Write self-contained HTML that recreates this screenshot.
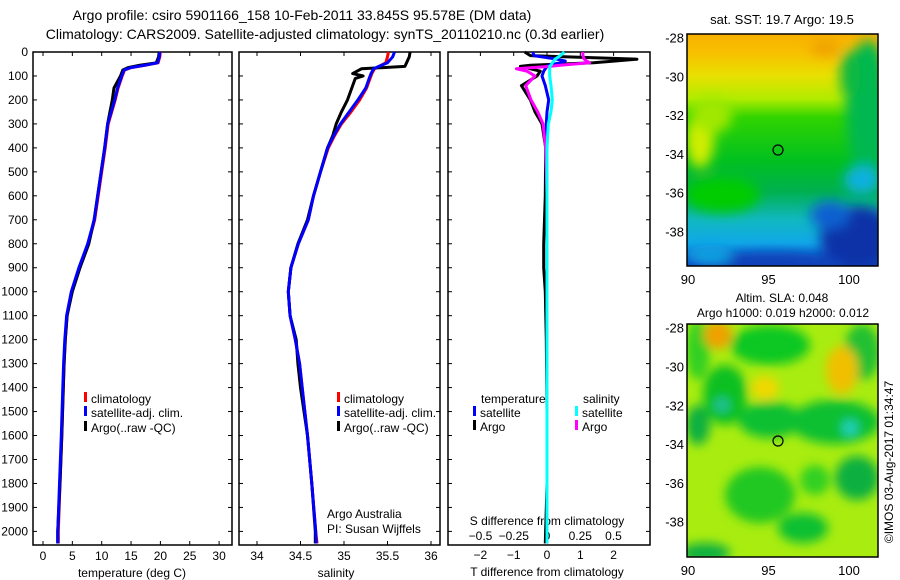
<!DOCTYPE html>
<html><head><meta charset="utf-8"><style>
body{margin:0;background:#fff}
svg{display:block;font-family:"Liberation Sans",sans-serif}
text{fill:#000}
</style></head><body>
<svg id="fig" width="900" height="580" viewBox="0 0 900 580" xmlns="http://www.w3.org/2000/svg">
<defs>
<filter id="bl1" x="-20%" y="-20%" width="140%" height="140%"><feGaussianBlur stdDeviation="6"/></filter>
<filter id="bl2" x="-20%" y="-20%" width="140%" height="140%"><feGaussianBlur stdDeviation="5"/></filter>
<clipPath id="c1"><rect x="687" y="34" width="191" height="232"/></clipPath>
<clipPath id="c2"><rect x="687" y="324" width="191" height="233"/></clipPath>
<linearGradient id="g1" x1="0" y1="0" x2="0" y2="1">
<stop offset="0" stop-color="#f8b000"/><stop offset="0.08" stop-color="#f8c000"/><stop offset="0.18" stop-color="#e8e000"/><stop offset="0.28" stop-color="#b0ec00"/><stop offset="0.36" stop-color="#30d400"/><stop offset="0.55" stop-color="#00c020"/><stop offset="0.68" stop-color="#00b050"/><stop offset="0.8" stop-color="#10b8c0"/><stop offset="0.9" stop-color="#10a8e8"/><stop offset="1" stop-color="#1040c0"/>
</linearGradient>
</defs>
<text x="302" y="20" font-size="14" text-anchor="middle">Argo profile: csiro 5901166_158 10-Feb-2011 33.845S 95.578E (DM data)</text>
<text x="325" y="39" font-size="14" text-anchor="middle">Climatology: CARS2009. Satellite-adjusted climatology: synTS_20110210.nc (0.3d earlier)</text>
<g id="axes"></g>
<g id="series"></g>
<g>
<text x="782" y="24" font-size="13" text-anchor="middle">sat. SST: 19.7 Argo: 19.5</text>
<g clip-path="url(#c1)">
<rect x="687" y="34" width="191" height="232" fill="url(#g1)"/>
<g filter="url(#bl1)">
<ellipse cx="700" cy="140" rx="14" ry="28" fill="#d0ee00"/>
<ellipse cx="712" cy="115" rx="20" ry="18" fill="#a0e800"/>
<ellipse cx="868" cy="110" rx="22" ry="70" fill="#00b850"/>
<ellipse cx="850" cy="75" rx="10" ry="25" fill="#10b840"/>
<ellipse cx="722" cy="195" rx="38" ry="18" fill="#00cc00"/>
<ellipse cx="858" cy="238" rx="38" ry="32" fill="#0830a8"/>
<ellipse cx="830" cy="215" rx="20" ry="14" fill="#1060d0"/>
<ellipse cx="862" cy="180" rx="18" ry="14" fill="#10b0e0"/>
<ellipse cx="770" cy="262" rx="70" ry="9" fill="#1040b8"/>
<ellipse cx="710" cy="255" rx="22" ry="10" fill="#10a0e0"/>
<ellipse cx="825" cy="48" rx="15" ry="8" fill="#f0a000"/>
</g>
</g>
<rect x="687" y="34" width="191" height="232" fill="none" stroke="#000" stroke-width="1.5"/>
<circle cx="778" cy="150" r="5" fill="none" stroke="#000" stroke-width="1.2"/>
</g>
<g>
<text x="782" y="302" font-size="12" text-anchor="middle">Altim. SLA: 0.048</text>
<text x="783" y="317" font-size="12" text-anchor="middle">Argo h1000: 0.019 h2000: 0.012</text>
<g clip-path="url(#c2)">
<rect x="687" y="324" width="191" height="233" fill="#a8ec10"/>
<g filter="url(#bl2)">
<ellipse cx="770" cy="345" rx="40" ry="20" fill="#10c820"/>
<ellipse cx="862" cy="352" rx="18" ry="28" fill="#20c030"/>
<ellipse cx="698" cy="350" rx="12" ry="30" fill="#30d020"/>
<ellipse cx="725" cy="395" rx="22" ry="30" fill="#10c020"/>
<ellipse cx="770" cy="420" rx="32" ry="18" fill="#10c030"/>
<ellipse cx="835" cy="422" rx="45" ry="22" fill="#10c030"/>
<ellipse cx="857" cy="478" rx="22" ry="22" fill="#10b040"/>
<ellipse cx="698" cy="425" rx="12" ry="20" fill="#10b040"/>
<ellipse cx="760" cy="495" rx="35" ry="28" fill="#20c820"/>
<ellipse cx="803" cy="528" rx="25" ry="15" fill="#10c030"/>
<ellipse cx="705" cy="553" rx="25" ry="10" fill="#10b040"/>
<ellipse cx="815" cy="480" rx="15" ry="15" fill="#30d020"/>
<ellipse cx="718" cy="335" rx="14" ry="14" fill="#f0a000"/>
<ellipse cx="842" cy="370" rx="16" ry="24" fill="#f0c000"/>
<ellipse cx="765" cy="388" rx="14" ry="12" fill="#f0d800"/>
<ellipse cx="722" cy="405" rx="7" ry="7" fill="#20c0a0"/>
<ellipse cx="850" cy="428" rx="8" ry="8" fill="#20d0c0"/>
</g>
</g>
<rect x="687" y="324" width="191" height="233" fill="none" stroke="#000" stroke-width="1.5"/>
<circle cx="778" cy="441" r="5" fill="none" stroke="#000" stroke-width="1.2"/>
<text x="0" y="0" font-size="12" text-anchor="middle" transform="translate(893,462) rotate(-90)">©IMOS 03-Aug-2017 01:34:47</text>
</g>
</svg>
<script>
// ---- data ----
const tempDepths  = [0,20,45,55,65,75,100,150,200,300,400,500,600,700,800,900,1000,1100,1200,1300,1400,1600,1800,2000,2050];
const tempClim    = [20.0,19.9,19.6,17.5,15.0,13.9,13.5,12.8,12.3,11.1,10.6,10.0,9.4,8.8,7.7,6.2,4.9,4.1,3.8,3.6,3.45,3.2,2.9,2.6,2.6];
const tempArgo    = [19.8,19.7,19.3,16.5,14.5,13.6,13.2,12.1,11.8,11.0,10.5,9.9,9.3,8.7,7.8,6.3,5.0,4.1,3.8,3.6,3.45,3.2,2.9,2.5,2.5];
const salDepths   = [0,20,45,60,70,90,100,110,150,200,250,300,350,400,500,600,700,800,900,1000,1100,1200,1300,1400,1600,1800,2000,2050];
const salClim     = [35.51,35.50,35.48,35.40,35.35,35.32,35.31,35.30,35.26,35.18,35.08,34.97,34.89,34.82,34.73,34.65,34.59,34.475,34.39,34.36,34.38,34.44,34.49,34.52,34.58,34.63,34.675,34.69];
const salSat      = [35.58,35.56,35.50,35.40,35.34,35.31,35.30,35.29,35.25,35.16,35.06,34.96,34.88,34.81,34.73,34.65,34.59,34.475,34.39,34.36,34.38,34.44,34.49,34.52,34.58,34.63,34.675,34.68];
const salArgo     = [35.76,35.75,35.72,35.70,35.20,35.10,35.22,35.13,35.09,35.04,34.97,34.91,34.87,34.81,34.73,34.65,34.58,34.47,34.39,34.36,34.38,34.45,34.47,34.50,34.58,34.63,34.67,34.67];
const diffDepths  = [0,15,30,38,45,55,60,70,80,100,140,200,250,300,400,600,800,900,1000,1200,1500,1800,2050];
const dTsat       = [-0.42,-0.40,0.30,0.55,0.40,0.05,0.0,-0.05,-0.10,-0.15,-0.05,0.05,0.0,-0.02,0.0,0.0,0.0,0.0,0.0,0.0,0.0,0.0,0.0];
const dTargo      = [-0.67,-0.50,2.7,2.0,1.4,-0.5,-0.8,-0.5,-0.2,-0.3,-0.77,-0.5,-0.36,-0.15,-0.04,-0.05,-0.1,-0.1,-0.05,-0.02,0.0,0.0,-0.05];
const dSsat       = [0.13,0.10,0.06,0.05,0.04,0.03,0.02,0.02,0.02,0.02,0.03,0.04,0.03,0.01,0.0,0.0,0.0,0.0,0.0,0.0,0.0,0.0,0.0];
const dSargo      = [0.27,0.27,0.28,0.30,0.32,0.10,0.02,-0.23,-0.15,-0.09,-0.16,-0.12,-0.07,-0.03,-0.01,0.0,0.0,0.0,0.0,0.0,0.0,0.0,0.0];
const depthTicks  = [0,100,200,300,400,500,600,700,800,900,1000,1100,1200,1300,1400,1500,1600,1700,1800,1900,2000];
const tempTicks   = [0,5,10,15,20,25,30];
const salTicks    = ['34','34.5','35','35.5','36'];
const tdiffTicks  = [-2,-1,0,1,2];
const sdiffTicks  = ['-0.5','-0.25','0','0.25','0.5'];

// ---- scales ----
const TOP=52, BOT=545;
const yD = d => TOP + d*0.2397;
const xT = t => 43 + t*5.87;
const xS = s => 257 + (s-34)*87;
const xDT = t => 547 + t*33.3;
const xDS = s => 547 + s*133;

const NS='http://www.w3.org/2000/svg';
const axes=document.getElementById('axes'), series=document.getElementById('series');
function mk(tag, parent, attrs){const e=document.createElementNS(NS,tag);for(const k in attrs)e.setAttribute(k,attrs[k]);parent.appendChild(e);return e;}
function txt(parent,x,y,s,anchor,size){const e=mk('text',parent,{x:x,y:y,'font-size':size||12,'text-anchor':anchor||'middle'});e.textContent=s;return e;}

const frames=[[33,232],[239,440],[448,650]];
const frameNames=['temperature-panel-frame','salinity-panel-frame','difference-panel-frame'];
frames.forEach((f,i)=>{
  const r=mk('rect',axes,{x:f[0],y:TOP,width:f[1]-f[0],height:BOT-TOP,fill:'none',stroke:'#000','stroke-width':1.5});
  
  
  depthTicks.forEach(d=>{
    mk('line',axes,{x1:f[0],x2:f[0]+4,y1:yD(d),y2:yD(d),stroke:'#000'});
    mk('line',axes,{x1:f[1]-4,x2:f[1],y1:yD(d),y2:yD(d),stroke:'#000'});
  });
});
depthTicks.forEach(d=>{
  const t=txt(axes,28,yD(d)+4,String(d),'end',12);
  
  
});
tempTicks.forEach(v=>{
  mk('line',axes,{x1:xT(v),x2:xT(v),y1:TOP,y2:TOP+4,stroke:'#000'});
  mk('line',axes,{x1:xT(v),x2:xT(v),y1:BOT-4,y2:BOT,stroke:'#000'});
  const t=txt(axes,xT(v),560,String(v));
  
  
});
salTicks.forEach(v=>{
  const x=xS(parseFloat(v));
  mk('line',axes,{x1:x,x2:x,y1:TOP,y2:TOP+4,stroke:'#000'});
  mk('line',axes,{x1:x,x2:x,y1:BOT-4,y2:BOT,stroke:'#000'});
  const t=txt(axes,x,560,v);
  
  
});
tdiffTicks.forEach(v=>{
  mk('line',axes,{x1:xDT(v),x2:xDT(v),y1:TOP,y2:TOP+4,stroke:'#000'});
  const t=txt(axes,xDT(v),559,String(v).replace('-','−'));
  
  
});
sdiffTicks.forEach(v=>{
  const t=txt(axes,xDS(parseFloat(v)),540,v.replace('-','−'));
  
  
});
let a;
a=txt(axes,132,577,'temperature (deg C)');


a=txt(axes,336,577,'salinity');


a=txt(axes,547,576,'T difference from climatology');


a=txt(axes,547,525,'S difference from climatology');


a=txt(axes,327,518,'Argo Australia','start');


a=txt(axes,327,533,'PI: Susan Wijffels','start');



function line(xs, ds, xf, color, name, w){
  const pts=ds.map((d,i)=>xf(xs[i]).toFixed(1)+','+yD(d).toFixed(1)).join(' ');
  const p=mk('polyline',series,{points:pts,fill:'none',stroke:color,'stroke-width':w||3,'stroke-linejoin':'round'});
  
  
}
line(tempClim,tempDepths,xT,'#ff0000','temp-climatology-line');
line(tempArgo,tempDepths,xT,'#000000','temp-argo-line');
line(tempClim,tempDepths,t=>xT(t)-0.5,'#0000ff','temp-satellite-line');
line(salClim,salDepths,xS,'#ff0000','sal-climatology-line');
line(salArgo,salDepths,xS,'#000000','sal-argo-line');
line(salSat,salDepths,xS,'#0000ff','sal-satellite-line');
line(dTargo,diffDepths,xDT,'#000000','tdiff-argo-line');
line(dTsat,diffDepths,xDT,'#0000ff','tdiff-satellite-line');
line(dSargo,diffDepths,xDS,'#ff00ff','sdiff-argo-line');
line(dSsat,diffDepths,xDS,'#00ffff','sdiff-satellite-line');

function legend(x,y,color,label,name){
  const g=mk('g',axes,{});
  
  
  mk('rect',g,{x:x,y:y-11,width:3,height:10,fill:color});
  txt(g,x+7,y,label,'start',12);
}
legend(84,403,'#ff0000','climatology','legend-climatology');
legend(84,417,'#0000ff','satellite-adj. clim.','legend-satellite-adj');
legend(84,432,'#000000','Argo(..raw -QC)','legend-argo');
legend(337,403,'#ff0000','climatology','legend2-climatology');
legend(337,417,'#0000ff','satellite-adj. clim.','legend2-satellite-adj');
legend(337,432,'#000000','Argo(..raw -QC)','legend2-argo');
a=txt(axes,481,403,'temperature','start');


a=txt(axes,583,403,'salinity','start');


legend(473,417,'#0000ff','satellite','legend-tdiff-satellite');
legend(473,431,'#000000','Argo','legend-tdiff-argo');
legend(575,417,'#00ffff','satellite','legend-sdiff-satellite');
legend(575,431,'#ff00ff','Argo','legend-sdiff-argo');

function mapAxes(x0,y0,w,h,latTop,latStep){
  [90,95,100].forEach(lon=>{
    const x=688+(lon-90)*16.1;
    mk('line',axes,{x1:x,x2:x,y1:y0+h,y2:y0+h-4,stroke:'#000'});
    mk('line',axes,{x1:x,x2:x,y1:y0,y2:y0+4,stroke:'#000'});
    const t=txt(axes,x,y0+h+18,String(lon),'middle',13);
    
    
  });
  [28,30,32,34,36,38].forEach(lat=>{
    const y=latTop+(lat-28)*latStep;
    mk('line',axes,{x1:x0,x2:x0+4,y1:y,y2:y,stroke:'#000'});
    mk('line',axes,{x1:x0+w-4,x2:x0+w,y1:y,y2:y,stroke:'#000'});
    const t=txt(axes,x0-3,y+5,'-'+lat,'end',13);
    
    
  });
}
mapAxes(687,34,191,232,37.5,19.4);
mapAxes(687,324,191,233,327.7,19.4);
</script>
</body></html>
